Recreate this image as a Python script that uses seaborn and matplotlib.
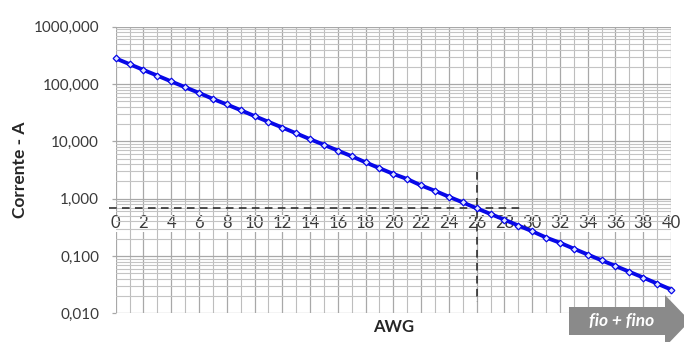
import numpy as np
import pandas as pd
import matplotlib
matplotlib.use("Agg")
import matplotlib.pyplot as plt
import matplotlib.ticker as mticker
from matplotlib.patches import Polygon
import seaborn as sns

# Current capacity (A) per AWG gauge
awg = list(range(0, 41))
corrente = [280, 222, 176, 140, 111, 88, 70, 55, 44, 35,
            27.6, 21.9, 17.4, 13.8, 10.9, 8.7, 6.9, 5.5, 4.3, 3.4,
            2.7, 2.2, 1.7, 1.37, 1.08, 0.86, 0.68, 0.54, 0.43, 0.34,
            0.27, 0.21, 0.17, 0.134, 0.106, 0.084, 0.067, 0.053, 0.042, 0.033,
            0.026]

# Reference guide lines for 26 AWG
guia_h_x = [-0.5, 29.3]
guia_h_y = [0.68, 0.68]
guia_v_x = [26, 26]
guia_v_y = [2.9, 0.016]

x_ticks = list(range(0, 41, 2))
y_ticks = [0.01, 0.1, 1, 10, 100, 1000]

sns.set_theme(style="white")
plt.rcParams["font.family"] = ["Lato", "DejaVu Sans"]

fig = plt.figure(figsize=(6.84, 3.42), dpi=100)
ax = fig.add_axes([0.1692, 0.0839, 0.8118, 0.838])

df = pd.DataFrame({"AWG": awg, "Corrente": corrente})
sns.lineplot(data=df, x="AWG", y="Corrente", ax=ax, color="#0808e8",
             linewidth=2.8, marker="D", markersize=3.4,
             markerfacecolor="#dfe6ff", markeredgecolor="#0808e8",
             markeredgewidth=0.9, clip_on=False, zorder=5)

ax.plot(guia_h_x, guia_h_y, color="#222222", lw=1.1, ls=(0, (5, 3.5)),
        clip_on=False, zorder=4)
ax.plot(guia_v_x, guia_v_y, color="#222222", lw=1.1, ls=(0, (5, 3.5)),
        clip_on=False, zorder=4)

ax.set_yscale("log")
ax.set_ylim(0.01, 1000)
ax.set_xlim(0, 40)

ax.set_yticks(y_ticks)
ax.yaxis.set_major_formatter(mticker.FuncFormatter(
    lambda v, p: f"{v:.3f}".replace(".", ",")))
ax.yaxis.set_minor_locator(mticker.LogLocator(base=10, subs=np.arange(2, 10)))
ax.yaxis.set_minor_formatter(mticker.NullFormatter())

ax.set_xticks(x_ticks)
ax.set_xticks(range(0, 41), minor=True)

ax.grid(which="major", axis="both", color="#a8a8a8", lw=0.9)
ax.grid(which="minor", axis="x", color="#bdbdbd", lw=0.8)
ax.grid(which="minor", axis="y", color="#c4c4c4", lw=0.8)
ax.set_axisbelow(True)

for s in ax.spines.values():
    s.set_visible(False)
ax.spines["bottom"].set_position(("data", 1))

ax.tick_params(axis="y", which="major", length=3, color="#a8a8a8", width=0.9,
               pad=9, labelsize=11, labelcolor="#3a3a3a", left=True)
ax.tick_params(axis="y", which="minor", length=0)
ax.tick_params(axis="x", which="both", length=0, pad=12, labelsize=12,
               labelcolor="#3a3a3a")
for lbl in ax.get_xticklabels():
    lbl.set_bbox(dict(facecolor="white", edgecolor="none", pad=0.6))

ax.set_xlabel("")
ax.set_ylabel("Corrente - A", fontsize=12.5, fontweight="bold",
              color="#262626", labelpad=4)
fig.text(0.575, 0.044, "AWG", ha="center", va="center", fontsize=12,
         fontweight="bold", color="#262626")

# Arrow badge in the lower-right corner
W, H = 684, 342
pts = [(569, 307), (665, 307), (665, 295), (690, 321), (665, 347),
       (665, 335), (569, 335)]
arrow = Polygon([(x / W, 1 - y / H) for x, y in pts], closed=True,
                transform=fig.transFigure, facecolor="#8a8a8a",
                edgecolor="none", clip_on=False)
fig.patches.append(arrow)
fig.text(622 / W, 1 - 321 / H, "fio + fino", ha="center", va="center",
         color="white", fontsize=12.5, fontweight="bold", fontstyle="italic")

fig.savefig("out.png", dpi=100)
